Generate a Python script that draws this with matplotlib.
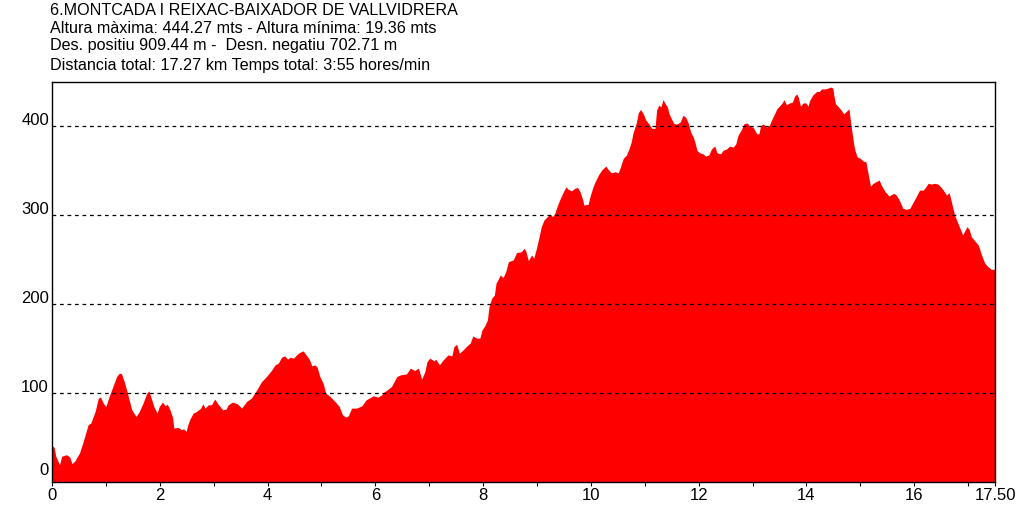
import matplotlib
matplotlib.use("Agg")
import matplotlib.pyplot as plt

plt.rcParams['font.family'] = ['Liberation Sans', 'DejaVu Sans']

# Header text
header = [
    "6.MONTCADA I REIXAC-BAIXADOR DE VALLVIDRERA",
    "Altura màxima: 444.27 mts - Altura mínima: 19.36 mts",
    "Des. positiu 909.44 m -  Desn. negatiu 702.71 m",
    "Distancia total: 17.27 km Temps total: 3:55 hores/min",
]

# Elevation profile (km, m)
dist_km = [
    0.00, 0.04, 0.07, 0.14, 0.18, 0.27, 0.33, 0.37, 0.43, 0.46, 0.51, 0.58, 0.67, 0.72, 0.80,
    0.86, 0.90, 0.95, 1.00, 1.06, 1.13, 1.20, 1.25, 1.29, 1.34, 1.40, 1.48, 1.56, 1.62, 1.69,
    1.76, 1.80, 1.84, 1.89, 1.95, 1.99, 2.05, 2.10, 2.14, 2.19, 2.24, 2.26, 2.34, 2.41, 2.44,
    2.49, 2.52, 2.56, 2.62, 2.68, 2.76, 2.80, 2.84, 2.90, 2.96, 3.02, 3.09, 3.17, 3.23, 3.27,
    3.35, 3.44, 3.52, 3.61, 3.70, 3.80, 3.89, 3.98, 4.08, 4.14, 4.20, 4.26, 4.32, 4.37, 4.42,
    4.48, 4.54, 4.59, 4.66, 4.74, 4.78, 4.82, 4.88, 4.92, 4.97, 5.03, 5.08, 5.16, 5.25, 5.33,
    5.39, 5.45, 5.50, 5.56, 5.65, 5.75, 5.83, 5.89, 5.96, 6.05, 6.12, 6.15, 6.24, 6.30, 6.40,
    6.47, 6.58, 6.65, 6.73, 6.80, 6.86, 6.92, 6.96, 7.01, 7.09, 7.12, 7.19, 7.26, 7.35, 7.42,
    7.46, 7.51, 7.56, 7.63, 7.70, 7.76, 7.81, 7.88, 7.94, 7.98, 8.03, 8.08, 8.11, 8.16, 8.21,
    8.24, 8.28, 8.32, 8.37, 8.42, 8.47, 8.56, 8.62, 8.71, 8.76, 8.79, 8.84, 8.90, 8.94, 8.99,
    9.04, 9.08, 9.13, 9.18, 9.24, 9.29, 9.33, 9.36, 9.42, 9.49, 9.54, 9.58, 9.64, 9.70, 9.75,
    9.80, 9.85, 9.87, 9.95, 9.98, 10.03, 10.07, 10.14, 10.20, 10.28, 10.32, 10.38, 10.45, 10.51, 10.55,
    10.60, 10.66, 10.71, 10.75, 10.78, 10.84, 10.88, 10.92, 10.97, 11.02, 11.08, 11.13, 11.19, 11.22, 11.26,
    11.30, 11.34, 11.37, 11.42, 11.45, 11.50, 11.54, 11.58, 11.62, 11.66, 11.71, 11.76, 11.81, 11.85, 11.90,
    11.93, 11.97, 12.02, 12.08, 12.13, 12.19, 12.24, 12.30, 12.34, 12.41, 12.45, 12.52, 12.58, 12.64, 12.69,
    12.73, 12.80, 12.84, 12.90, 12.95, 13.01, 13.08, 13.12, 13.15, 13.20, 13.26, 13.31, 13.35, 13.40, 13.45,
    13.51, 13.56, 13.58, 13.63, 13.69, 13.74, 13.78, 13.82, 13.85, 13.89, 13.94, 13.99, 14.03, 14.06, 14.12,
    14.19, 14.24, 14.28, 14.34, 14.40, 14.45, 14.49, 14.51, 14.54, 14.60, 14.65, 14.69, 14.74, 14.79, 14.82,
    14.85, 14.88, 14.90, 14.94, 15.00, 15.07, 15.10, 15.15, 15.19, 15.24, 15.29, 15.35, 15.39, 15.45, 15.53,
    15.62, 15.67, 15.73, 15.79, 15.86, 15.92, 15.97, 16.03, 16.10, 16.17, 16.21, 16.26, 16.32, 16.38, 16.44,
    16.49, 16.54, 16.60, 16.65, 16.69, 16.75, 16.80, 16.85, 16.90, 16.94, 16.98, 17.02, 17.06, 17.12, 17.19,
    17.25, 17.31, 17.37, 17.43, 17.50,
]
alt_m = [
    40.8, 39.0, 29.0, 19.4, 29.0, 30.7, 28.0, 20.6, 24.0, 27.7, 32.6, 45.6, 64.4, 66.3, 79.3,
    94.4, 95.5, 88.8, 85.0, 96.2, 107.4, 118.7, 122.5, 121.7, 113.0, 100.0, 81.2, 73.7, 79.3, 88.8,
    100.0, 102.6, 94.4, 85.0, 77.5, 85.0, 89.9, 85.7, 87.6, 81.2, 71.9, 60.7, 61.3, 58.8, 59.9,
    56.9, 64.4, 70.8, 77.5, 79.3, 83.1, 88.0, 83.1, 86.9, 86.9, 93.3, 86.9, 81.2, 82.0, 86.9,
    89.9, 88.0, 83.1, 90.6, 94.4, 103.7, 113.0, 118.7, 126.2, 131.8, 133.7, 140.4, 141.9, 138.2, 140.4,
    139.3, 143.0, 145.6, 147.5, 141.1, 137.4, 130.7, 131.8, 129.2, 118.7, 111.2, 100.0, 96.2, 90.6, 85.0,
    75.6, 73.0, 74.5, 83.1, 83.1, 85.7, 92.5, 94.4, 97.0, 95.5, 98.1, 100.7, 104.5, 107.4, 118.7,
    120.6, 121.7, 128.1, 125.4, 128.1, 115.7, 124.3, 135.5, 139.3, 136.3, 138.2, 131.8, 137.4, 143.0, 141.9,
    152.4, 155.0, 144.9, 148.7, 153.1, 156.2, 164.4, 161.8, 161.8, 171.1, 175.6, 182.4, 197.3, 206.7, 210.4,
    223.6, 228.1, 232.9, 229.9, 236.6, 247.9, 249.8, 258.0, 259.1, 262.9, 260.2, 249.0, 255.4, 251.7, 262.9,
    276.0, 287.2, 294.7, 297.8, 301.5, 298.4, 302.2, 307.9, 317.2, 326.5, 332.1, 329.2, 327.6, 330.3, 331.5,
    326.5, 317.2, 311.6, 312.4, 320.2, 330.3, 336.6, 345.3, 350.9, 355.4, 351.7, 347.9, 349.0, 347.9, 354.6,
    364.0, 367.8, 375.3, 382.7, 392.1, 403.4, 415.3, 419.1, 414.6, 407.1, 402.6, 397.8, 397.8, 418.3, 423.9,
    422.0, 430.3, 426.5, 422.0, 414.6, 407.9, 403.4, 402.6, 403.4, 405.2, 412.7, 410.1, 403.4, 394.0, 388.0,
    382.4, 373.0, 370.3, 369.2, 366.6, 368.1, 374.8, 377.9, 370.3, 369.2, 373.0, 374.8, 377.9, 376.7, 380.4,
    389.9, 397.3, 402.9, 404.0, 400.3, 399.2, 391.7, 391.7, 401.1, 402.9, 399.2, 401.1, 406.7, 413.0, 419.8,
    423.6, 427.3, 430.3, 424.3, 426.5, 427.3, 434.0, 436.6, 432.9, 422.8, 426.5, 426.5, 422.8, 429.2, 435.5,
    439.3, 439.3, 442.2, 442.2, 443.1, 444.3, 443.1, 434.8, 425.4, 421.7, 418.0, 414.2, 416.9, 419.8, 404.8,
    391.7, 379.3, 373.4, 365.8, 364.0, 360.2, 361.3, 345.3, 332.9, 336.0, 337.8, 339.7, 334.0, 327.6, 321.7,
    324.7, 322.8, 316.4, 307.9, 306.7, 307.9, 313.5, 320.2, 328.4, 328.4, 331.5, 336.0, 335.2, 336.0, 335.2,
    332.1, 328.4, 322.8, 325.4, 315.3, 300.3, 292.8, 285.4, 277.9, 282.7, 287.2, 284.3, 276.0, 271.5, 266.6,
    255.4, 246.1, 242.2, 239.3, 239.3,
]

x_ticks = [0, 1, 2, 3, 4, 5, 6, 7, 8, 9, 10, 11, 12, 13, 14, 15, 16, 17, 17.5]
x_labels = ["0", "", "2", "", "4", "", "6", "", "8", "", "10", "", "12", "", "14", "", "16", "", "17.50"]
grid_levels = [100, 200, 300, 400]
y_ticks = [0, 100, 200, 300, 400]
y_labels = ["0", "100", "200", "300", "400"]

W, H = 1020, 508
fig = plt.figure(figsize=(W / 100, H / 100), dpi=100)
ax = fig.add_axes([52 / W, (H - 482) / H, (995 - 52) / W, (482 - 82) / H])

ax.fill_between(dist_km, alt_m, 0, color="#ff0000", lw=0, zorder=1)
for g in grid_levels:
    ax.axhline(g, color="black", lw=0.9, ls=(0, (3, 3)), zorder=2)

ax.set_xlim(0, 17.5)
ax.set_ylim(0, 450)
ax.set_xticks(x_ticks)
ax.set_xticklabels(x_labels)
ax.tick_params(axis="x", direction="out", length=3, width=0.8, pad=1, labelsize=12)
ax.set_yticks([])
for s in ax.spines.values():
    s.set_linewidth(1.0)
    s.set_zorder(3)

# y labels sit just above their grid line, left of the axis
for v, lab in zip(y_ticks, y_labels):
    dy = 7 if v == 0 else 1
    ax.annotate(lab, xy=(0, v), xycoords=("axes fraction", "data"),
                xytext=(-3, dy), textcoords="offset pixels",
                ha="right", va="baseline", fontsize=12)

baselines = [15, 33, 50, 70]
for line, b in zip(header, baselines):
    fig.text(50 / W, 1 - b / H, line, ha="left", va="baseline", fontsize=11.6)

fig.savefig("out.png", dpi=100)
